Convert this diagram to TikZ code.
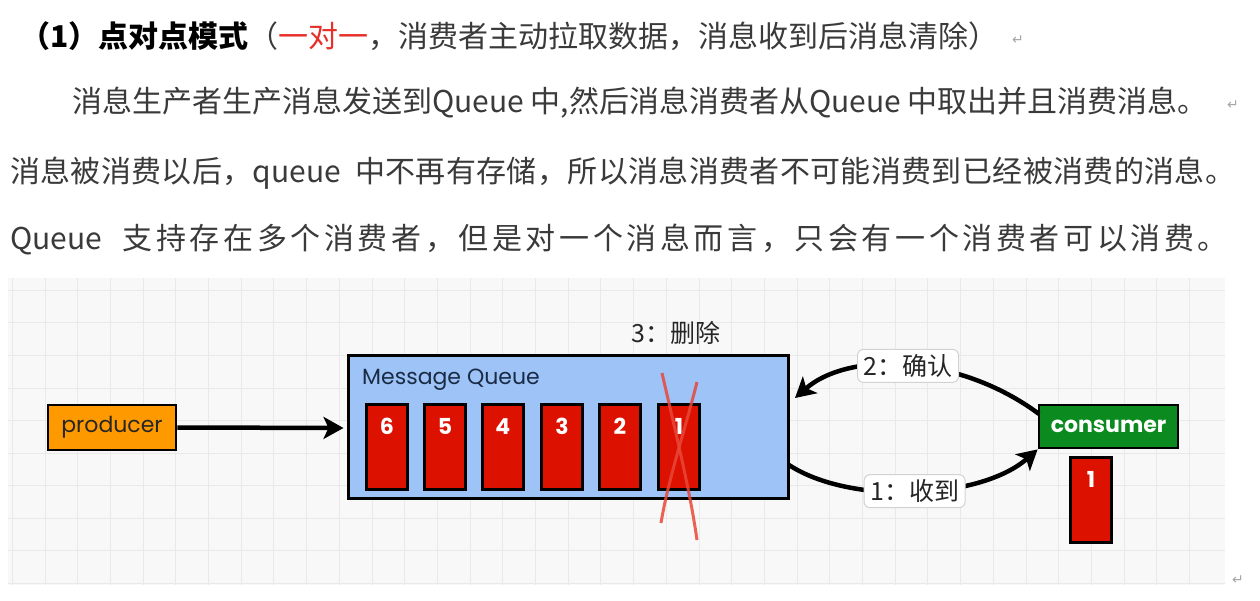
\documentclass[tikz,border=0pt]{standalone}
\usepackage{fontspec}
\setmainfont{Noto Sans CJK SC}
\newfontfamily\cjk{Noto Sans CJK SC}
\newfontfamily\cjkwide{Noto Sans CJK SC}[LetterSpace=12]
\newfontfamily\cjkmid{Noto Sans CJK SC}[LetterSpace=1.2]
\newfontfamily\diag{Poppins}
\newfontfamily\dejavu{DejaVu Sans}
\usetikzlibrary{arrows.meta,calc}
\definecolor{txt}{HTML}{3A3A3A}
\definecolor{qblue}{HTML}{9DC3F7}
\definecolor{mred}{HTML}{DD1100}
\definecolor{porange}{HTML}{FF9900}
\definecolor{cgreen}{HTML}{0B8A1F}
\definecolor{gridbg}{HTML}{F8F8F8}
\definecolor{gridln}{HTML}{E9E9E9}
\definecolor{xred}{HTML}{E8473A}
\definecolor{navy}{HTML}{1B2B45}
\definecolor{hlred}{HTML}{E8302A}
\begin{document}
\begin{tikzpicture}[x=1pt,y=1pt,
  txtline/.style={anchor=west, inner sep=0pt, text=txt, font=\cjk\fontsize{30}{30}\selectfont},
  retmark/.style={inner sep=0pt, text=gray!70, font=\dejavu\fontsize{14}{14}\selectfont},
  box/.style={draw=black, line width=2.8pt, inner sep=0pt},
  msg/.style={box, fill=mred, minimum width=41pt, minimum height=85pt, anchor=north west,
    label={[msgnum]north:#1}},
  msgnum/.style={anchor=north, yshift=-15pt, inner sep=0pt, text=white, font=\diag\bfseries\fontsize{22}{22}\selectfont},
  arr/.style={line width=4.5pt, -{Stealth[length=20pt,width=22pt,inset=5pt]}},
  lbl/.style={draw=gray!35, fill=white, rounded corners=6pt, line width=1pt, minimum width=101pt, minimum height=33pt, inner sep=2pt, text=black!85, font=\cjk\fontsize{25}{25}\selectfont},
  diagtext/.style={inner sep=0pt, font=\diag\fontsize{22}{22}\selectfont}
]
\useasboundingbox (0,0) rectangle (1260,-601);
\fill[white] (0,0) rectangle (1260,-601);

% text lines
\node[txtline] (t1) at (20,-36) {{\bfseries\color{black}（1）点对点模式}（{\color{hlred}一对一}，消费者主动拉取数据，消息收到后消息清除）};
\node[retmark] (r1) at (1018,-40) {↵};
\node[txtline] (t2) at (72,-103) {消息生产者生产消息发送到Queue 中,然后消息消费者从Queue 中取出并且消费消息。};
\node[retmark] (r2) at (1233,-105) {↵};
\node[txtline, font=\cjkmid\fontsize{30}{30}\selectfont] (t3) at (10,-173) {消息被消费以后，{\cjk queue}\ \ 中不再有存储，所以消息消费者不可能消费到已经被消费的消息。};
\node[txtline, font=\cjkwide\fontsize{30}{30}\selectfont] (t4) at (10,-240) {{\cjk Queue}\ \ 支持存在多个消费者，但是对一个消息而言，只会有一个消费者可以消费。};

% grid background
\fill[gridbg] (8,-278) rectangle (1225,-585);
\foreach \i in {0,...,36} \draw[gridln, line width=1pt] ({12.3+\i*32.7},-278) -- ({12.3+\i*32.7},-585);
\foreach \j in {0,...,9} \draw[gridln, line width=1pt] (8,{-290.5-\j*32.5}) -- (1225,{-290.5-\j*32.5});
\node[retmark] (r3) at (1238,-580) {↵};

% nodes
\node[box, fill=porange, minimum width=128pt, minimum height=45pt] (producer) at (112,-427.5) {};
\node[diagtext, text=black!85] (ptext) at (producer) {producer};
\node[box, line width=3pt, fill=qblue, minimum width=440pt, minimum height=143pt] (queue) at (568,-426.5) {};
\node[diagtext, text=navy, anchor=west] (qtitle) at (362,-380) {Message Queue};
\node[msg=6] (m6) at (365,-403) {};
\node[msg=5] (m5) at (423,-403) {};
\node[msg=4] (m4) at (481,-403) {};
\node[msg=3] (m3) at (540,-403) {};
\node[msg=2] (m2) at (598,-403) {};
\node[msg=1] (m1) at (657,-403) {};
\node[box, fill=cgreen, minimum width=139pt, minimum height=43pt] (consumer) at (1108.5,-426.5) {};
\node[diagtext, text=white, font=\diag\bfseries\fontsize{22}{22}\selectfont] (ctext) at (consumer) {consumer};
\node[msg=1] (cm1) at (1069,-456) {};

% delete mark
\node[inner sep=0pt, anchor=west, text=black!85, font=\cjk\fontsize{25}{25}\selectfont] (del) at (631,-333) {3：删除};
\coordinate (xa1) at (662,-373);
\coordinate (xa2) at (697,-540);
\coordinate (xb1) at (697,-382);
\coordinate (xb2) at (661,-523);
\draw[xred, opacity=0.85, line width=3pt] (xa1) .. controls (675,-430) and (690,-490) .. (xa2);
\draw[xred, opacity=0.85, line width=3pt] (xb1) .. controls (685,-430) and (668,-480) .. (xb2);

% connectors
\draw[arr] (producer.east) -- ($(queue.west)+(-3,-1.5)$);
\coordinate (ackstart) at (1039,-414);
\coordinate (acktip) at (795,-398);
\draw[arr] (ackstart) .. controls (960,-355) and (850,-350) .. node[lbl] (ack) {2：确认} (acktip);
\coordinate (recvstart) at (789,-465);
\draw[arr] (recvstart) .. controls (850,-505) and (980,-500) .. node[lbl] (recv) {1：收到} (consumer.south west);
\end{tikzpicture}
\end{document}
